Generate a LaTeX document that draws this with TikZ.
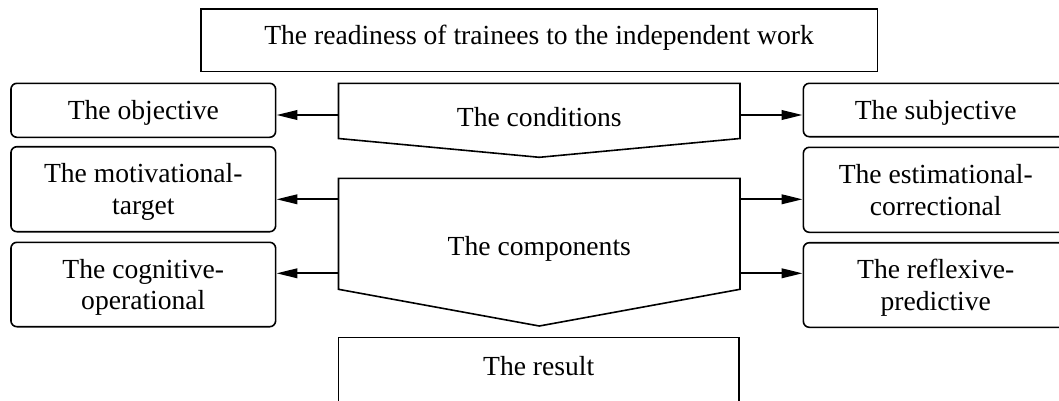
\documentclass[tikz,border=0pt]{standalone}
\usepackage{fontspec}
\setmainfont{Liberation Serif}
\usetikzlibrary{arrows.meta}

\begin{document}
\begin{tikzpicture}[
    x=1pt, y=-1pt,
    box/.style={draw=black, line width=1.6pt, align=center,
        font=\fontsize{27.6pt}{31.7pt}\selectfont},
    sidebox/.style={box, rounded corners=6pt, minimum width=264.7pt},
    label/.style={align=center, font=\fontsize{27.6pt}{31.7pt}\selectfont},
    frame/.style={draw=black, line width=1.6pt, line join=miter},
    edge/.style={line width=2.3pt, -{Triangle[length=21pt,width=9.5pt]}}
]
    \useasboundingbox (0,0) rectangle (1059,400);
    \clip (0,0) rectangle (1059,400);
    \node[box, minimum width=676.6pt, minimum height=62.7pt, text depth=12pt] (top) at (539,40.3)
        {The readiness of trainees to the independent work};
    \node[sidebox, minimum height=54pt, text depth=-2pt] (obj) at (143.3,110.3) {The objective};
    \node[sidebox, minimum height=85pt, text depth=-4pt] (mot) at (143.3,189.2) {The motivational-\\target};
    \node[sidebox, minimum height=84.4pt, text depth=0pt] (cog) at (143.3,284.5) {The cognitive-\\operational};
    \node[sidebox, minimum height=53.4pt, text depth=-1pt] (subj) at (935.7,110) {The subjective};
    \node[sidebox, minimum height=85pt, text depth=-3pt] (est) at (935.7,189.8) {The estimational-\\correctional};
    \node[sidebox, minimum height=84.6pt, text depth=1pt] (refl) at (935.7,285) {The reflexive-\\predictive};
    \node[box, minimum width=400.7pt, minimum height=67pt, text depth=11pt] (res) at (538.7,371)
        {The result};
    \draw[frame] (338.5,83.3) -- (740,83.3) -- (740,138.5) -- (539.3,157.3) -- (338.5,138.5) -- cycle;
    \draw[frame] (338.5,178.3) -- (740,178.3) -- (740,289.3) -- (539.3,326) -- (338.5,289.3) -- cycle;
    \node[label] (cond) at (539.3,117.1) {The conditions};
    \node[label] (comp) at (539.3,248.4) {The components};
    \coordinate (condL) at (338.5,115);
    \coordinate (condR) at (740,115);
    \coordinate (compL1) at (338.5,199.3);
    \coordinate (compR1) at (740,199.3);
    \coordinate (compL2) at (338.5,273.3);
    \coordinate (compR2) at (740,273.3);
    \draw[edge] (condL) -- (condL -| obj.east);
    \draw[edge] (condR) -- (condR -| subj.west);
    \draw[edge] (compL1) -- (compL1 -| mot.east);
    \draw[edge] (compR1) -- (compR1 -| est.west);
    \draw[edge] (compL2) -- (compL2 -| cog.east);
    \draw[edge] (compR2) -- (compR2 -| refl.west);
\end{tikzpicture}
\end{document}
